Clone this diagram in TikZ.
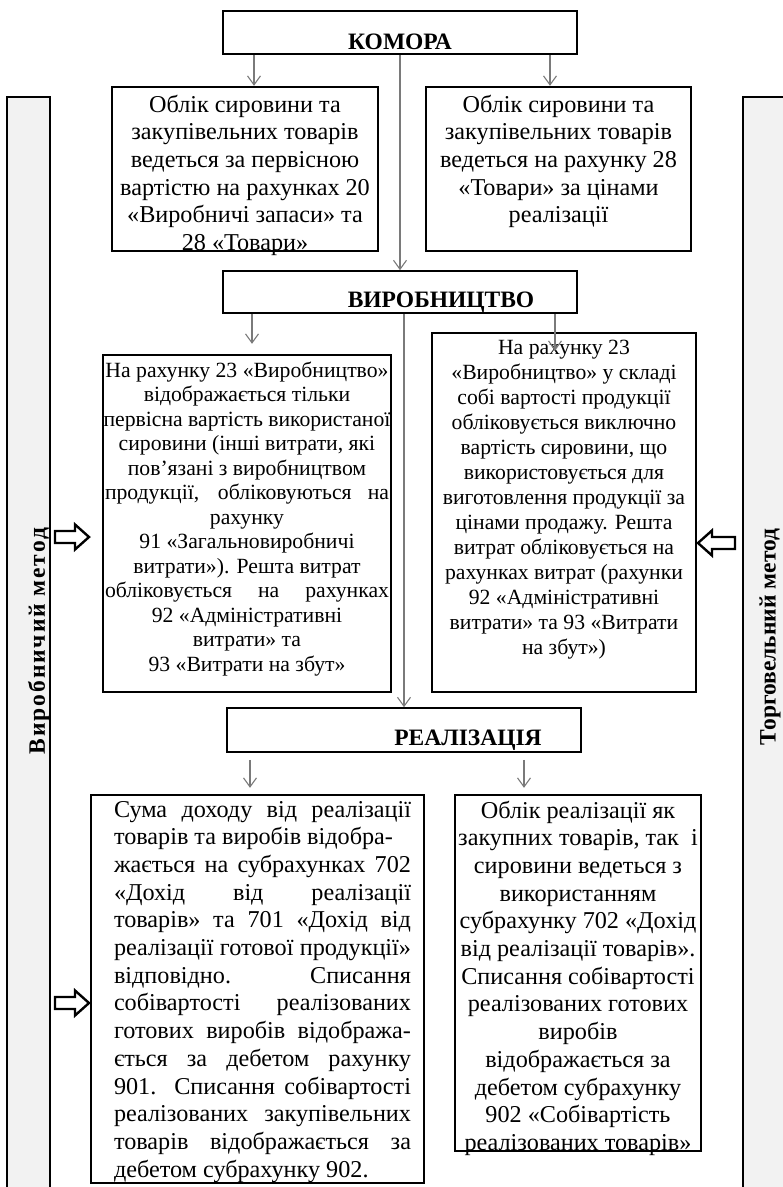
\documentclass[tikz,border=0pt]{standalone}
\usepackage{fontspec}
\setmainfont{Liberation Serif}
\usetikzlibrary{arrows.meta,calc}
\definecolor{barfill}{HTML}{F2F2F2}
\definecolor{wire}{HTML}{7A7A7A}
\newcommand{\fillline}[1]{\makebox[\linewidth][s]{#1}}
\newcommand{\cardtext}[2]{\makebox[#1]{\begin{minipage}[t]{\dimexpr#1+16pt\relax}\centering#2\end{minipage}}}
\tikzset{
  >={Straight Barb[length=9pt,width=13pt]},
  stage/.style={draw, line width=1.6pt, fill=white, minimum width=354pt, inner sep=0pt,
    text depth=0pt, font=\fontsize{23.5}{28}\selectfont\bfseries},
  card/.style={draw, line width=2.4pt, fill=white, inner xsep=2pt, inner ysep=0pt, text height=0pt},
  bigtext/.style={font=\fontsize{24.2}{27.7}\selectfont},
  smalltext/.style={font=\fontsize{21.7}{24.5}\selectfont},
  wirearrow/.style={->, line width=1.1pt, color=wire},
  sidebar/.style={draw, line width=1.2pt, fill=barfill},
  sidetext/.style={rotate=90, inner sep=0pt, font=\fontsize{23.5}{28}\selectfont\bfseries},
  fatarrow/.style={draw, line width=2.4pt, fill=white, line join=miter}
}

\begin{document}
\begin{tikzpicture}[x=1pt,y=-1pt]
  \useasboundingbox (0,0) rectangle (783,1187);
  \clip (0,0) rectangle (783,1187);
  % method bars
  \draw[sidebar] (7,1195) |- (50,97) -- (50,1195);
  \draw[sidebar] (743,1195) |- (795,97) -- (795,1195);
  \node[sidetext] (prodlabel) at (39,641) {\addfontfeature{LetterSpace=8}Виробничий метод};
  \node[sidetext] (tradelabel) at (770,637) {Торговельний метод};
  % stages
  \node[stage, minimum height=43pt, text height=33pt] (komora) at (400,32.5) {КОМОРА};
  \node[stage, minimum height=42pt, text height=30pt] (virob) at (400,292) {\hspace*{82pt}ВИРОБНИЦТВО};
  \node[stage, minimum height=44pt, text height=30pt] (real) at (404,730) {\hspace*{128pt}РЕАЛІЗАЦІЯ};
  % storage
  \node[card, bigtext, minimum width=266pt, minimum height=164pt, text depth=114pt] (l1) at (245,169)
    {\cardtext{262pt}{Облік сировини та\\ закупівельних товарів\\ ведеться за первісною\\ вартістю на рахунках 20\\ «Виробничі запаси» та\\ 28 «Товари»}};
  \node[card, bigtext, minimum width=265pt, minimum height=164pt, text depth=114pt] (r1) at (558.5,169)
    {\cardtext{261pt}{Облік сировини та\\ закупівельних товарів\\ ведеться на рахунку 28\\ «Товари» за цінами\\ реалізації}};
  % production
  \node[card, smalltext, minimum width=288pt, minimum height=337pt, text depth=293pt] (l2) at (247,523.5)
    {\cardtext{284pt}{На рахунку 23 «Виробництво»\\ відображається тільки\\ первісна вартість використаної\\ сировини (інші витрати, які\\ пов’язані з виробництвом\\
     \makebox[284pt][s]{продукції, обліковуються на}\\ рахунку\\ 91 «Загальновиробничі\\ витрати»). Решта витрат\\
     \makebox[284pt][s]{обліковується на рахунках}\\ 92 «Адміністративні\\ витрати» та\\ 93 «Витрати на збут»}};
  \node[card, smalltext, font=\fontsize{21.7}{25}\selectfont, minimum width=264pt, minimum height=359pt, text depth=317pt] (r2) at (564,512.5)
    {\cardtext{260pt}{На рахунку 23\\ «Виробництво» у складі\\ собі вартості продукції\\ обліковується виключно\\ вартість сировини, що\\ використовується для\\
     виготовлення продукції за\\ цінами продажу. Решта\\ витрат обліковується на\\ рахунках витрат (рахунки\\ 92 «Адміністративні\\
     витрати» та 93 «Витрати\\ на збут»)}};
  % sales
  \node[card, bigtext, minimum width=333pt, minimum height=388pt, text depth=344pt] (l3) at (257.5,989)
    {\makebox[307pt][r]{\begin{minipage}[t]{297pt}\raggedright
     \fillline{Сума доходу від реалізації}\\ товарів та виробів відобра-\\ \fillline{жається на субрахунках 702}\\
     \fillline{«Дохід від реалізації}\\ \fillline{товарів» та 701 «Дохід від}\\ \fillline{реалізації готової продукції»}\\
     \fillline{відповідно. Списання}\\ \fillline{собівартості реалізованих}\\ \fillline{готових виробів відобража-}\\
     \fillline{ється за дебетом рахунку}\\ \fillline{901. Списання собівартості}\\ \fillline{реалізованих закупівельних}\\
     \fillline{товарів відображається за}\\ дебетом субрахунку 902.\end{minipage}}};
  \node[card, bigtext, minimum width=246pt, minimum height=356pt, text depth=310pt] (r3) at (578,973)
    {\cardtext{240pt}{Облік реалізації як\\ закупних товарів, так~ і\\ сировини ведеться з\\ використанням\\ субрахунку 702 «Дохід\\
     від реалізації товарів».\\ Списання собівартості\\ реалізованих готових\\ виробів\\ відображається за\\
     дебетом субрахунку\\ 902 «Собівартість\\ реалізованих товарів»}};
  % connectors
  \draw[wirearrow] ($(l1.north |- komora.south)+(9,0)$) -- ($(l1.north)+(9,0)$);
  \draw[wirearrow] ($(r1.north |- komora.south)+(-8.5,0)$) -- ($(r1.north)+(-8.5,0)$);
  \draw[wirearrow] (komora.south) -- (virob.north);
  \draw[wirearrow] ($(l2.north |- virob.south)+(5,0)$) -- ($(l2.north)+(5,-10)$);
  \draw[wirearrow] ($(r2.north |- virob.south)+(-9,0)$) -- ($(r2.north)+(-9,19)$);
  \draw[wirearrow] (virob.south -| real.north) -- (real.north);
  \draw[wirearrow] ($(l3.north |- real.south)+(-7.5,7)$) -- ($(l3.north)+(-7.5,-6)$);
  \draw[wirearrow] ($(r3.north |- real.south)+(-54,7)$) -- ($(r3.north)+(-54,-6)$);
  % block arrows from the bars
  \foreach \y in {537,1003}
    \draw[fatarrow] (55,{\y-6}) -- ++(20,0) -- ++(0,-6.5) -- ++(14,12.5) -- ++(-14,12.5) -- ++(0,-6.5) -- ++(-20,0) -- cycle;
  \draw[fatarrow] (735,537) -- ++(-23,0) -- ++(0,-6.5) -- ++(-14,12.5) -- ++(14,12.5) -- ++(0,-6.5) -- ++(23,0) -- cycle;
\end{tikzpicture}
\end{document}
